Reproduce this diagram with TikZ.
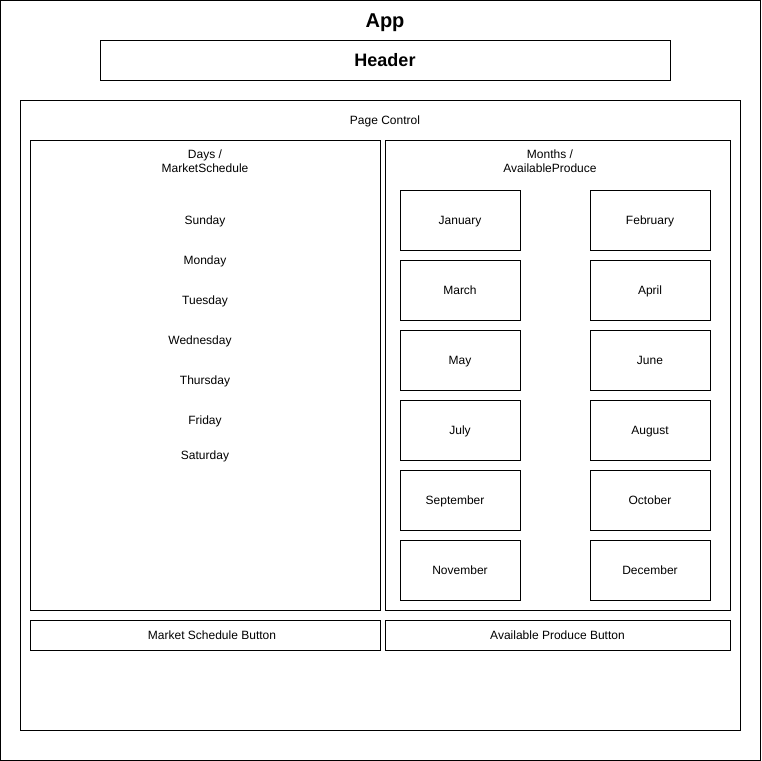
\documentclass[tikz,border=0pt]{standalone}
\usepackage{fontspec}
\setmainfont{Liberation Sans}
\begin{document}
\begin{tikzpicture}[x=1pt,y=-1pt,
  box/.style={draw=black,line width=0.8pt,fill=white,inner sep=0pt},
  lbl/.style={font=\fontsize{12}{14}\selectfont,align=center,inner sep=0pt,anchor=base},
  month/.style={box,minimum width=120pt,minimum height=60pt}]
\useasboundingbox (0,0) rectangle (761,761);
\draw[box] (0.5,0.5) rectangle (760.5,760.5);
\node[font=\fontsize{20}{24}\selectfont\bfseries,inner sep=0pt,anchor=base] (app) at (385,27.5) {App};
\node[box,minimum width=570pt,minimum height=40pt] (header) at (385,60) {};
\node[font=\fontsize{18}{22}\selectfont\bfseries,inner sep=0pt,anchor=base] (headerlbl) at (385,66.5) {Header};
\node[box,minimum width=720pt,minimum height=630pt] (page) at (380,415) {};
\node[lbl] (pagelbl) at (385,124.5) {Page Control};
\node[box,minimum width=350pt,minimum height=470pt] (left) at (205,375) {};
\node[lbl,anchor=center,font=\fontsize{12}{14}\selectfont] (leftlbl) at (205,161) {Days /\\MarketSchedule};
\node[box,minimum width=345pt,minimum height=470pt] (right) at (557.5,375) {};
\node[lbl,anchor=center] (rightlbl) at (550,161) {Months /\\AvailableProduce};
\node[lbl] (sun) at (205,224.5) {Sunday};
\node[lbl] (mon) at (205,264.5) {Monday};
\node[lbl] (tue) at (205,304.5) {Tuesday};
\node[lbl] (wed) at (200,344.5) {Wednesday};
\node[lbl] (thu) at (205,384.5) {Thursday};
\node[lbl] (fri) at (205,424.5) {Friday};
\node[lbl] (sat) at (205,459.5) {Saturday};
\node[month] (jan) at (460,220) {};
\node[month] (feb) at (650,220) {};
\node[month] (mar) at (460,290) {};
\node[month] (apr) at (650,290) {};
\node[month] (may) at (460,360) {};
\node[month] (jun) at (650,360) {};
\node[month] (jul) at (460,430) {};
\node[month] (aug) at (650,430) {};
\node[month] (sep) at (460,500) {};
\node[month] (oct) at (650,500) {};
\node[month] (nov) at (460,570) {};
\node[month] (dec) at (650,570) {};
\node[lbl] (janl) at (460,224.5) {January};
\node[lbl] (febl) at (650,224.5) {February};
\node[lbl] (marl) at (460,294.5) {March};
\node[lbl] (aprl) at (650,294.5) {April};
\node[lbl] (mayl) at (460,364.5) {May};
\node[lbl] (junl) at (650,364.5) {June};
\node[lbl] (jull) at (460,434.5) {July};
\node[lbl] (augl) at (650,434.5) {August};
\node[lbl] (sepl) at (455,504.5) {September};
\node[lbl] (octl) at (650,504.5) {October};
\node[lbl] (novl) at (460,574.5) {November};
\node[lbl] (decl) at (650,574.5) {December};
\node[box,minimum width=350pt,minimum height=30pt] (msb) at (205,635) {};
\node[lbl] (msbl) at (212,639.5) {Market Schedule Button};
\node[box,minimum width=345pt,minimum height=30pt] (apb) at (557.5,635) {};
\node[lbl] (apbl) at (557.5,639.5) {Available Produce Button};
\end{tikzpicture}
\end{document}
